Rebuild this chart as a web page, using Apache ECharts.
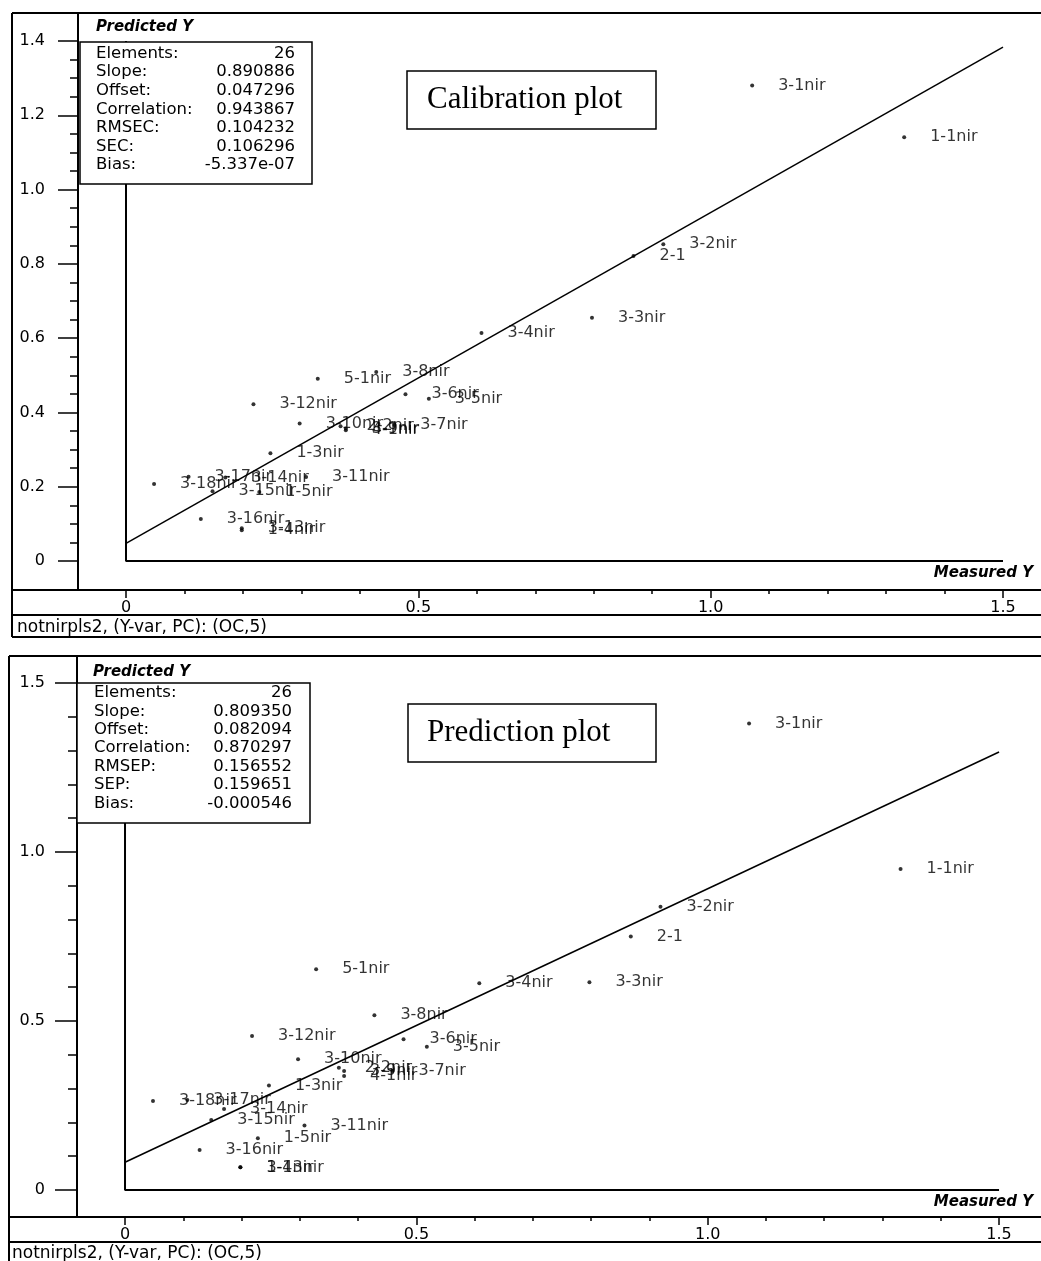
<!DOCTYPE html>
<html>
<head>
<meta charset="utf-8">
<title>Calibration / Prediction plot</title>
<script src="https://cdn.jsdelivr.net/npm/echarts@6.0.0/dist/echarts.min.js"></script>
<style>
    html, body { margin: 0; padding: 0; background: #fff; }
    .plot { width: 1041px; height: 1261px; }
</style>
</head>
<body>
<div class="plot"></div>
<script>
// samples, same order in every array
const sampleNames = ['3-1nir', '1-1nir', '3-2nir', '2-1', '3-3nir', '3-4nir', '5-1nir', '3-8nir', '3-6nir', '3-5nir',
    '3-12nir', '3-10nir', '2-2nir', '3-9nir', '4-1nir', '3-7nir', '1-3nir', '3-11nir', '3-18nir', '3-17nir',
    '3-14nir', '3-15nir', '1-5nir', '3-16nir', '3-13nir', '1-4nir']
const measuredY = [1.071, 1.331, 0.919, 0.868, 0.797, 0.608, 0.328, 0.428, 0.478, 0.518,
    0.218, 0.297, 0.367, 0.376, 0.376, 0.459, 0.247, 0.308, 0.048, 0.107,
    0.170, 0.148, 0.228, 0.128, 0.198, 0.198]
const calPredicted = [1.280, 1.141, 0.853, 0.821, 0.655, 0.614, 0.491, 0.509, 0.449, 0.437,
    0.422, 0.370, 0.363, 0.357, 0.352, 0.366, 0.290, 0.226, 0.207, 0.227,
    0.225, 0.188, 0.186, 0.113, 0.088, 0.083]
const valPredicted = [1.380, 0.950, 0.838, 0.750, 0.615, 0.612, 0.653, 0.517, 0.446, 0.424,
    0.456, 0.387, 0.362, 0.352, 0.337, 0.352, 0.309, 0.191, 0.263, 0.266,
    0.240, 0.207, 0.153, 0.118, 0.067, 0.067]

// regression lines (ends at 0 and 1.5)
const calFit = [[0, 0.0473], [1.5, 1.3836]]
const valFit = [[0, 0.0821], [1.5, 1.2961]]

const calStatNames = ['Elements:', 'Slope:', 'Offset:', 'Correlation:', 'RMSEC:', 'SEC:', 'Bias:']
const calStatValues = ['26', '0.890886', '0.047296', '0.943867', '0.104232', '0.106296', '-5.337e-07']
const valStatNames = ['Elements:', 'Slope:', 'Offset:', 'Correlation:', 'RMSEP:', 'SEP:', 'Bias:']
const valStatValues = ['26', '0.809350', '0.082094', '0.870297', '0.156552', '0.159651', '-0.000546']

const xMajorTicks = [0, 0.5, 1, 1.5]
const xTickLabels = ['0', '0.5', '1.0', '1.5']
const xMinorTicks = [0.1, 0.2, 0.3, 0.4, 0.6, 0.7, 0.8, 0.9, 1.1, 1.2, 1.3, 1.4]
const calYMajorTicks = [0, 0.2, 0.4, 0.6, 0.8, 1.0, 1.2, 1.4]
const calYTickLabels = ['0', '0.2', '0.4', '0.6', '0.8', '1.0', '1.2', '1.4']
const calYMinorTicks = [0.05, 0.1, 0.15, 0.25, 0.3, 0.35, 0.45, 0.5, 0.55, 0.65, 0.7, 0.75,
    0.85, 0.9, 0.95, 1.05, 1.1, 1.15, 1.25, 1.3, 1.35]
const valYMajorTicks = [0, 0.5, 1.0, 1.5]
const valYTickLabels = ['0', '0.5', '1.0', '1.5']
const valYMinorTicks = [0.1, 0.2, 0.3, 0.4, 0.6, 0.7, 0.8, 0.9, 1.1, 1.2, 1.3, 1.4]

const FONT = 'DejaVu Sans'

function tickAxis(grid, pos, min, max, ticks, labels, len, margin) {
    const axis = {
        gridIndex: grid,
        position: pos,
        type: 'value',
        min: min,
        max: max,
        // keep ticks on the grid edge, not on the zero line
        axisLine: { show: false, onZero: false },
        splitLine: { show: false },
        axisTick: {
            show: true,
            customValues: ticks,
            length: len,
            lineStyle: { color: '#000', width: 1.5 }
        },
        axisLabel: { show: false }
    }
    if (labels) {
        axis.axisLabel = {
            show: true,
            customValues: ticks,
            margin: margin,
            color: '#000',
            fontFamily: FONT,
            fontSize: 16,
            formatter: function (v) {
                const i = ticks.findIndex(t => Math.abs(t - v) < 1e-9)
                return i >= 0 ? labels[i] : ''
            }
        }
    }
    return axis
}

function lineSeries(xi, yi, data, width) {
    return {
        type: 'line',
        xAxisIndex: xi,
        yAxisIndex: yi,
        data: data,
        symbol: 'none',
        silent: true,
        lineStyle: { color: '#000', width: width },
        z: 3
    }
}

function scatterSeries(xi, yi, predicted) {
    return {
        type: 'scatter',
        xAxisIndex: xi,
        yAxisIndex: yi,
        data: measuredY.map((m, i) => ({ name: sampleNames[i], value: [m, predicted[i]] })),
        symbolSize: 4,
        itemStyle: { color: '#000' },
        silent: true,
        label: {
            show: true,
            position: 'right',
            distance: 24,
            formatter: '{b}',
            color: '#000',
            fontFamily: FONT,
            fontSize: 16
        },
        z: 5
    }
}

function text(x, y, str, font, align) {
    return {
        type: 'text',
        x: x,
        y: y,
        z: 110,
        style: {
            text: str,
            font: font,
            fill: '#000',
            textAlign: align || 'left',
            align: align || 'left',
            textVerticalAlign: 'middle',
            verticalAlign: 'middle'
        }
    }
}

function rect(x, y, w, h) {
    return {
        type: 'rect',
        z: 100,
        shape: { x: x, y: y, width: w, height: h },
        style: { fill: '#fff', stroke: '#000', lineWidth: 1.5 }
    }
}

function statsBox(box, names, values, labelX, valueX, rowY, gap) {
    const els = [rect(box[0], box[1], box[2], box[3])]
    names.forEach((n, i) => {
        els.push(text(labelX, rowY + i * gap, n, '16.5px "' + FONT + '"'))
        els.push(text(valueX, rowY + i * gap, values[i], '16.5px "' + FONT + '"', 'right'))
    })
    return els
}

// panel frame lines
const frameLines = [
    [12, 13, 1041, 13], [12, 13, 12, 637], [78, 13, 78, 590],
    [12, 590, 1041, 590], [12, 615, 1041, 615], [12, 637, 1041, 637],
    [9, 656, 1041, 656], [9, 656, 9, 1261], [77, 656, 77, 1217],
    [9, 1217, 1041, 1217], [9, 1242, 1041, 1242]
]

const graphic = frameLines.map(l => ({
    type: 'line',
    z: 100,
    shape: { x1: l[0], y1: l[1], x2: l[2], y2: l[3] },
    style: { stroke: '#000', lineWidth: 2 }
}))
    .concat(statsBox([80, 42, 232, 142], calStatNames, calStatValues, 96, 295, 53.5, 18.6))
    .concat(statsBox([77, 683, 233, 140], valStatNames, valStatValues, 94, 292, 693, 18.4))
    .concat([
        rect(407, 71, 249, 58),
        text(427, 100, 'Calibration plot', '31px "Liberation Serif"'),
        rect(408, 704, 248, 58),
        text(427, 733, 'Prediction plot', '31px "Liberation Serif"'),
        text(96, 27, 'Predicted Y', 'italic bold 15px "' + FONT + '"'),
        text(93, 672, 'Predicted Y', 'italic bold 15px "' + FONT + '"'),
        text(1033, 573, 'Measured Y', 'italic bold 15px "' + FONT + '"', 'right'),
        text(1033, 1202, 'Measured Y', 'italic bold 15px "' + FONT + '"', 'right'),
        text(17, 628, 'notnirpls2, (Y-var, PC): (OC,5)', '17px "' + FONT + '"'),
        text(12, 1254, 'notnirpls2, (Y-var, PC): (OC,5)', '17px "' + FONT + '"')
    ])

const myChart = echarts.init(document.querySelector('.plot'))

const option = {
    backgroundColor: '#fff',
    animation: false,
    grid: [
        { left: 78, top: 13, width: 963, height: 577 },
        { left: 77, top: 656, width: 964, height: 561 }
    ],
    xAxis: [
        tickAxis(0, 'bottom', -0.0821, 1.565, xMajorTicks, xTickLabels, 8, 10),
        tickAxis(0, 'bottom', -0.0821, 1.565, xMinorTicks, null, 4),
        tickAxis(1, 'bottom', -0.0824, 1.572, xMajorTicks, xTickLabels, 8, 10),
        tickAxis(1, 'bottom', -0.0824, 1.572, xMinorTicks, null, 4)
    ],
    yAxis: [
        tickAxis(0, 'left', -0.0781, 1.4754, calYMajorTicks, calYTickLabels, 20, 33),
        tickAxis(0, 'left', -0.0781, 1.4754, calYMinorTicks, null, 8),
        tickAxis(1, 'left', -0.0799, 1.5800, valYMajorTicks, valYTickLabels, 22, 32),
        tickAxis(1, 'left', -0.0799, 1.5800, valYMinorTicks, null, 9)
    ],
    graphic: graphic,
    series: [
        lineSeries(0, 0, [[0, 1.4], [0, 0], [1.5, 0]], 2),
        lineSeries(0, 0, calFit, 1.5),
        scatterSeries(0, 0, calPredicted),
        lineSeries(2, 2, [[0, 1.5], [0, 0], [1.5, 0]], 2),
        lineSeries(2, 2, valFit, 1.5),
        scatterSeries(2, 2, valPredicted)
    ]
}

myChart.setOption(option)

window.addEventListener('resize', function () {
    myChart.resize()
})
</script>
</body>
</html>
